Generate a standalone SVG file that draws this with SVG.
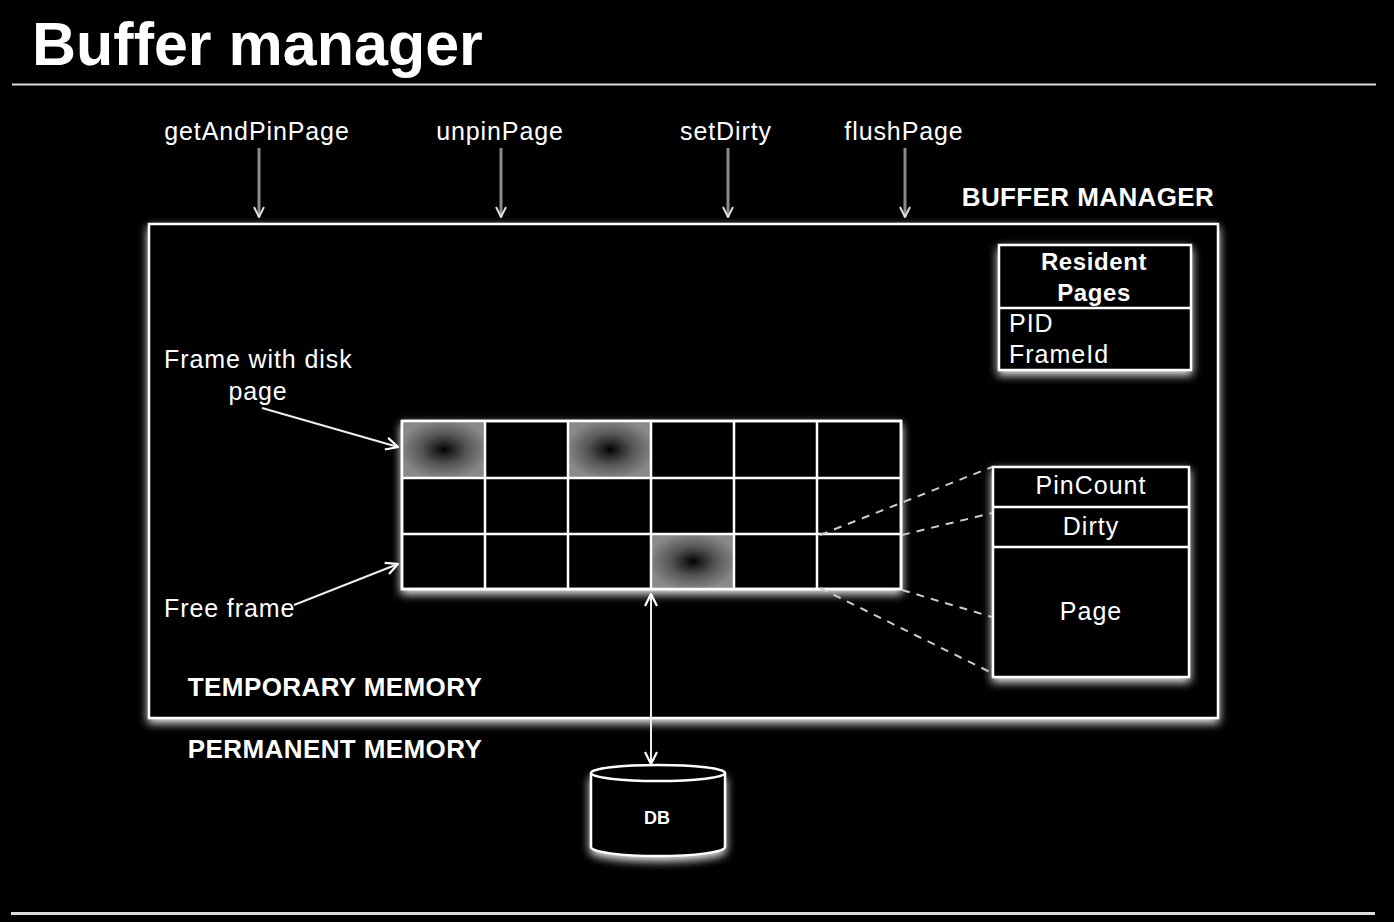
<svg xmlns="http://www.w3.org/2000/svg" width="1394" height="922" viewBox="0 0 1394 922">
<style>
.t{font-family:"Liberation Sans",Arial,sans-serif;fill:#fff}
.lab{font-size:25px;letter-spacing:0.9px}
.bold{font-weight:bold;font-size:26px;letter-spacing:0.4px}
.in{font-size:25px;letter-spacing:1px}
.box{fill:#000;stroke:#fff;stroke-width:2.5}
.grid{stroke:#fff;stroke-width:2.5;fill:none}
.api{stroke:#8a8a8a;stroke-width:3;fill:none}
.dash{stroke:#ccc;stroke-width:2;stroke-dasharray:8 7;fill:none}
.wline{stroke:#eee;stroke-width:2;fill:none}
</style>
<defs>
<filter id="glow" x="-10%" y="-10%" width="120%" height="130%">
<feGaussianBlur in="SourceAlpha" stdDeviation="5" result="b"/>
<feOffset in="b" dy="4" result="o"/>
<feComponentTransfer in="o" result="g"><feFuncA type="linear" slope="1.2"/></feComponentTransfer>
<feFlood flood-color="#c8c8c8"/>
<feComposite in2="g" operator="in" result="gc"/>
<feMerge><feMergeNode in="gc"/><feMergeNode in="SourceGraphic"/></feMerge>
</filter>
<radialGradient id="cell" cx="0.5" cy="0.5" r="0.55">
<stop offset="0" stop-color="#000"/>
<stop offset="0.12" stop-color="#181818"/>
<stop offset="0.5" stop-color="#555"/>
<stop offset="1" stop-color="#8a8a8a"/>
</radialGradient>
<marker id="ga" viewBox="0 0 12 12" refX="11" refY="6" markerWidth="12" markerHeight="12" markerUnits="userSpaceOnUse" orient="auto">
<path d="M1,1 L11,6 L1,11" fill="none" stroke="#ddd" stroke-width="2"/>
</marker>
<marker id="wa" viewBox="0 0 14 14" refX="13" refY="7" markerWidth="14" markerHeight="14" markerUnits="userSpaceOnUse" orient="auto-start-reverse">
<path d="M1,1 L13,7 L1,13" fill="none" stroke="#fff" stroke-width="2.2"/>
</marker>
</defs>
<rect width="1394" height="922" fill="#000"/>
<g id="title">
<text class="t" x="32" y="65" font-weight="bold" font-size="61">Buffer manager</text>
<line x1="12" y1="84.5" x2="1376" y2="84.5" stroke="#ddd" stroke-width="2"/>
<line x1="11" y1="913.5" x2="1375" y2="913.5" stroke="#ddd" stroke-width="3"/>
</g>
<g id="buffer-manager">
<rect class="box" x="149" y="224" width="1069" height="494" filter="url(#glow)"/>
<text class="t bold" x="1088" y="206" text-anchor="middle">BUFFER MANAGER</text>
<text class="t bold" x="335" y="696" text-anchor="middle">TEMPORARY MEMORY</text>
</g>
<g id="permanent-label">
<text class="t bold" x="335" y="758" text-anchor="middle">PERMANENT MEMORY</text>
</g>
<g id="api-labels">
<text class="t lab" x="257" y="140" text-anchor="middle">getAndPinPage</text>
<text class="t lab" x="500" y="140" text-anchor="middle">unpinPage</text>
<text class="t lab" x="726" y="140" text-anchor="middle">setDirty</text>
<text class="t lab" x="904" y="140" text-anchor="middle">flushPage</text>
</g>
<g id="resident-pages">
<rect class="box" x="999" y="245" width="192" height="125" filter="url(#glow)"/>
<line class="grid" x1="999" y1="308" x2="1191" y2="308"/>
<text class="t" x="1094" y="270" text-anchor="middle" font-weight="bold" font-size="24" letter-spacing="0.6">Resident</text>
<text class="t" x="1094" y="301" text-anchor="middle" font-weight="bold" font-size="24" letter-spacing="0.6">Pages</text>
<text class="t in" x="1009" y="332">PID</text>
<text class="t in" x="1009" y="363">FrameId</text>
</g>
<g id="frame-grid">
<rect class="box" x="402" y="421" width="499" height="168" filter="url(#glow)"/>
<rect x="403" y="422" width="82" height="55" fill="url(#cell)"/>
<rect x="569" y="422" width="82" height="55" fill="url(#cell)"/>
<rect x="652" y="535" width="82" height="53" fill="url(#cell)"/>
<path class="grid" d="M485,421V589M568,421V589M651,421V589M734,421V589M817,421V589M402,478H901M402,534H901"/>
<rect class="grid" x="402" y="421" width="499" height="168"/>
</g>
<g id="frame-detail">
<rect class="box" x="993" y="467" width="196" height="210" filter="url(#glow)"/>
<line class="grid" x1="993" y1="507" x2="1189" y2="507"/>
<line class="grid" x1="993" y1="547" x2="1189" y2="547"/>
<text class="t in" x="1091" y="494" text-anchor="middle">PinCount</text>
<text class="t in" x="1091" y="535" text-anchor="middle">Dirty</text>
<text class="t in" x="1091" y="620" text-anchor="middle">Page</text>
</g>
<g id="annotations">
<text class="t lab" x="164" y="368">Frame with disk</text>
<text class="t lab" x="258" y="400" text-anchor="middle">page</text>
<text class="t lab" x="164" y="617">Free frame</text>
</g>
<g id="db">
<path d="M591,773 V847 A67,9 0 0 0 725,847 V773" fill="#000" stroke="#fff" stroke-width="2.5" filter="url(#glow)"/>
<ellipse cx="658" cy="773" rx="67" ry="8" fill="#000" stroke="#fff" stroke-width="2.5"/>
<text class="t" x="657" y="824" text-anchor="middle" font-weight="bold" font-size="18">DB</text>
</g>
<g id="connectors">
<line class="api" x1="259" y1="148" x2="259" y2="217" marker-end="url(#ga)"/>
<line class="api" x1="501" y1="148" x2="501" y2="217" marker-end="url(#ga)"/>
<line class="api" x1="728" y1="148" x2="728" y2="217" marker-end="url(#ga)"/>
<line class="api" x1="905" y1="148" x2="905" y2="217" marker-end="url(#ga)"/>
<line class="wline" x1="262" y1="408" x2="398" y2="447" marker-end="url(#wa)"/>
<line class="wline" x1="294" y1="605" x2="398" y2="564" marker-end="url(#wa)"/>
<line class="wline" x1="651" y1="594" x2="651" y2="764" stroke-width="3" marker-start="url(#wa)" marker-end="url(#wa)"/>
<line class="dash" x1="820" y1="535" x2="992" y2="467"/>
<line class="dash" x1="902" y1="535" x2="992" y2="513"/>
<line class="dash" x1="902" y1="590" x2="992" y2="617"/>
<line class="dash" x1="820" y1="588" x2="992" y2="673"/>
</g>
</svg>
